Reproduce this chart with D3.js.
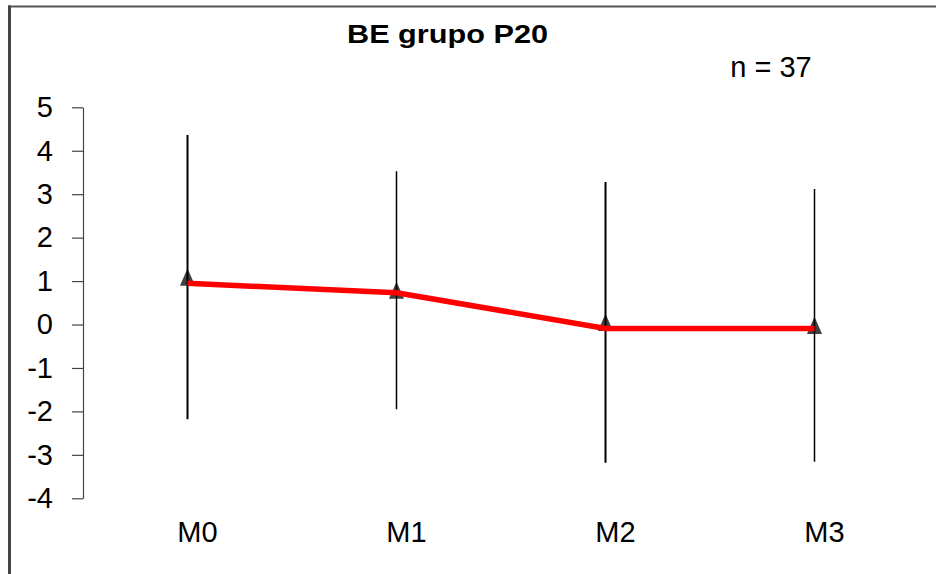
<!DOCTYPE html>
<html>
<head>
<meta charset="utf-8">
<script src="https://cdn.jsdelivr.net/npm/d3@7"></script>
<style>
  html, body { margin: 0; padding: 0; background: #ffffff; }
  svg { display: block; font-family: "Liberation Sans", Arial, sans-serif; }
</style>
</head>
<body>
<svg id="chart" width="936" height="574"></svg>
<script>
// Measurement points
const categories = ["M0", "M1", "M2", "M3"];
// Mean BE per point (triangle markers) and the standard deviation drawn as error bars
const means = [1.09, 0.79, 0.05, -0.02];
const deviations = [3.27, 2.74, 3.23, 3.14];
// Trend series drawn as the red line
const trend = [0.95, 0.73, -0.09, -0.09];
// Y axis tick labels
const yTicks = [5, 4, 3, 2, 1, 0, -1, -2, -3, -4];

const title = "BE grupo P20";
const sampleLabel = "n = 37";

const svg = d3.select("#chart");

const x = d3.scaleBand().domain(categories).range([83, 919]);
const y = d3.scaleLinear().domain([-4, 5]).range([498.3, 107.3]);
const cx = c => x(c) + x.bandwidth() / 2;

// Frame lines (top and left edges)
svg.append("line").attr("x1", 8).attr("x2", 936).attr("y1", 6.5).attr("y2", 6.5)
  .attr("stroke", "#555").attr("stroke-width", 2);
svg.append("line").attr("x1", 9.5).attr("x2", 9.5).attr("y1", 5.5).attr("y2", 574)
  .attr("stroke", "#444").attr("stroke-width", 3);

// Title and sample size
svg.append("text").attr("x", 347).attr("y", 43)
  .attr("font-size", 26).attr("font-weight", "bold").attr("fill", "#000")
  .attr("textLength", 201).attr("lengthAdjust", "spacingAndGlyphs")
  .text(title);
svg.append("text").attr("x", 771).attr("y", 77).attr("text-anchor", "middle")
  .attr("font-size", 29).attr("fill", "#000")
  .text(sampleLabel);

// Y axis
const yAxis = svg.append("g").attr("transform", "translate(83,0)")
  .call(d3.axisLeft(y).tickValues(yTicks).tickSize(11).tickSizeOuter(0).tickPadding(19).tickFormat(d3.format("d")));
yAxis.select(".domain").attr("stroke", "#444").attr("stroke-width", 1.2);
yAxis.selectAll(".tick line").attr("stroke", "#444").attr("stroke-width", 1.2);
yAxis.selectAll(".tick text").attr("font-size", 29).attr("fill", "#000")
  .attr("font-family", "'Liberation Sans', Arial, sans-serif")
  .text(d => d < 0 ? "-" + Math.abs(d) : d);

// X axis labels (no axis line)
const xAxis = svg.append("g").attr("transform", "translate(0,498)")
  .call(d3.axisBottom(x).tickSize(0).tickSizeOuter(0).tickPadding(23));
xAxis.select(".domain").remove();
xAxis.selectAll(".tick text").attr("font-size", 29).attr("fill", "#000")
  .attr("dx", 10)
  .attr("font-family", "'Liberation Sans', Arial, sans-serif");

const rows = categories.map((c, i) => ({ c, mean: means[i], sd: deviations[i], trend: trend[i], i }));

// Triangle markers at the means
const triangle = {
  draw(ctx, size) {
    const w = Math.sqrt(size) * 0.55, h = Math.sqrt(size) * 0.62;
    ctx.moveTo(0, -h);
    ctx.lineTo(w, h);
    ctx.lineTo(-w, h);
    ctx.closePath();
  }
};
svg.append("g").selectAll("path").data(rows).join("path")
  .attr("transform", d => `translate(${cx(d.c)},${y(d.mean)})`)
  .attr("d", d3.symbol(triangle, 190))
  .attr("fill", "#404040");

// Error bars (mean ± sd)
svg.append("g").selectAll("line").data(rows).join("line")
  .attr("x1", d => cx(d.c)).attr("x2", d => cx(d.c))
  .attr("y1", d => y(d.mean + d.sd)).attr("y2", d => y(d.mean - d.sd))
  .attr("stroke", "#000")
  .attr("stroke-width", d => d.i % 2 === 0 ? 2 : 1.5);

// Red trend line
const line = d3.line().x(d => cx(d.c)).y(d => y(d.trend));
svg.append("path").datum(rows)
  .attr("d", line)
  .attr("fill", "none")
  .attr("stroke", "#ff0000")
  .attr("stroke-width", 5.5)
  .attr("stroke-linejoin", "round");
</script>
</body>
</html>
